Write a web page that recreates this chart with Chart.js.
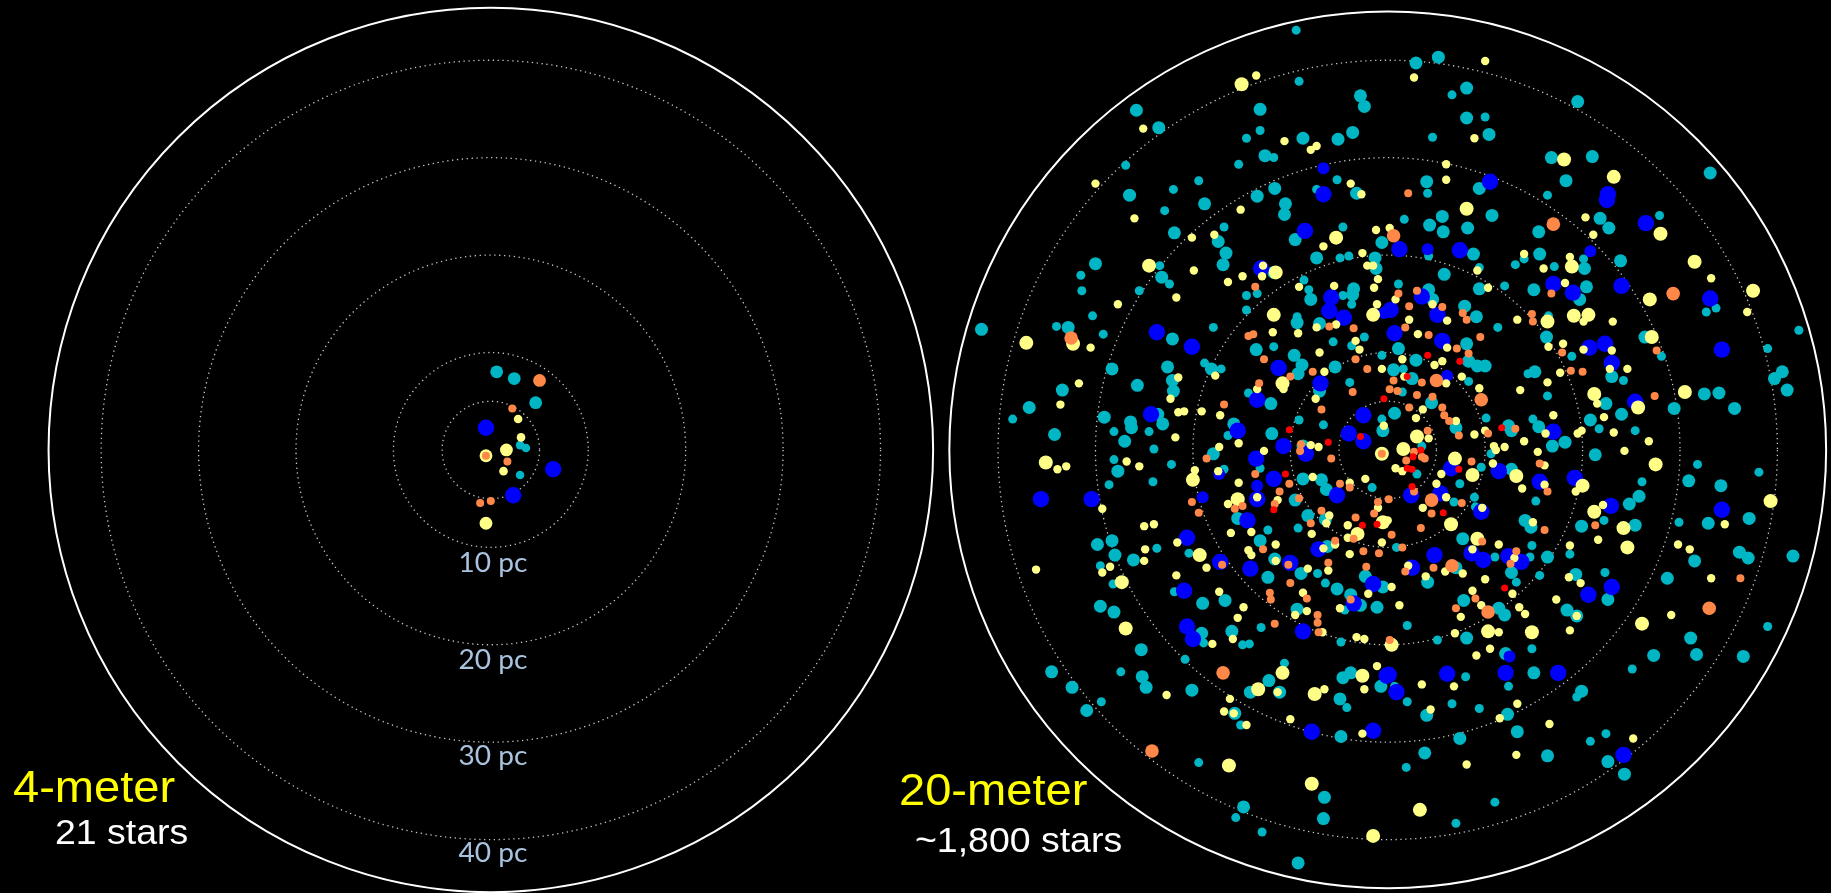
<!DOCTYPE html>
<html><head><meta charset="utf-8">
<script src="https://cdn.jsdelivr.net/npm/chart.js@4.4.0/dist/chart.umd.min.js"></script>
<style>html,body{margin:0;padding:0;background:#000;overflow:hidden}canvas{display:block}</style>
</head><body>
<canvas id="c" width="1831" height="893"></canvas>
<script>
// ---- ring / label values (pc) ----
const ringRadii = [5, 10, 20, 30, 40];
const outerRadii = [45.4, 45.0];
const labelRadii = [10, 20, 30, 40];
const ringLabels = ['10 pc', '20 pc', '30 pc', '40 pc'];
const panelTitles = ['4-meter', '20-meter'];
const panelCounts = ['21 stars', '~1,800 stars'];

// ---- 4-meter panel: star positions (pc from Sun) ----
const L_cyanB = [[0.6,8.1],[2.4,7.4],[4.6,4.9]];
const L_cyanS = [[3.0,0.5],[3.6,0.2],[3.0,-2.6]];
const L_yellowB = [[1.6,0.0],[-0.5,-0.6],[-0.5,-7.6]];
const L_yellowS = [[2.8,3.2],[3.1,1.3],[1.3,-2.2]];
const L_blueB = [[-0.5,2.3],[6.4,-2.0],[2.3,-4.7]];
const L_orangeB = [[5.0,7.2]];
const L_orangeS = [[2.2,4.3],[-0.5,-0.6],[1.7,-1.2],[0.0,-5.3],[-1.1,-5.5]];

// ---- 20-meter panel: star positions (pc from Sun) ----
const R_cyanB = [
[-2.8,36.7],[-2.4,35.6],[-25.8,35.2],[-13.1,35.3],[-23.5,33.4],[-8.7,32.3],[-5.1,32.2],[-3.6,32.9],[-12.6,30.5],[-3.2,26.6],[-26.5,26.4],[-13.4,26.3],[-11.6,27.1],[-18.8,25.5],[-10.5,25.5],[-10.6,24.4],[-21.9,22.5],[-17.4,21.6],[-9.5,21.8],[-0.6,21.5],[-16.6,20.4],[-16.9,19.2],[-7.3,19.9],[-1.2,18.8],[-1.3,19.9],[-30.0,19.3],[-23.2,17.9],[-11.7,18.4],[-3.5,16.7],[-3.6,16.1],[-7.9,15.6],
[2.9,40.1],[5.2,40.7],[8.1,37.5],[19.5,36.1],[8.1,34.4],[10.4,32.7],[16.8,30.3],[21.0,30.4],[33.1,28.7],[4.0,27.8],[9.4,27.1],[18.3,27.9],[5.6,24.2],[10.7,24.3],[4.3,23.3],[5.7,22.6],[8.2,23.0],[15.5,22.6],[21.8,24.0],[22.7,23.0],[8.8,20.3],[15.6,20.3],[20.2,18.8],[23.9,19.6],[5.8,18.2],[4.2,16.6],[4.6,15.6],[9.4,16.7],[15.0,16.6],[20.4,16.9],[19.7,15.6],
[-41.7,12.5],[-32.8,12.7],[-22.1,11.5],[-28.3,8.4],[-25.7,6.7],[-22.6,8.6],[-22.1,7.2],[-22.0,6.1],[-18.1,8.4],[-33.4,6.2],[-36.8,4.4],[-34.2,1.6],[-29.1,3.4],[-23.6,3.7],[-23.1,2.7],[-26.4,2.9],[-26.3,2.3],[-27.0,0.9],[-27.7,-2.2],[-29.8,-9.8],[-28.3,-9.4],[-28.0,-10.9],[-26.1,-11.4],[-17.9,-0.4],[-15.8,2.7],[-15.4,-7.1],[-13.1,-9.4],[-12.3,-13.2],[-11.6,-11.3],[-8.9,-12.8],[-5.2,-14.4],[-6.2,-10.0],[-8.2,-6.8],[-6.4,-7.2],[-9.5,-5.2],[-8.7,-3.0],[-6.8,-3.1],[-6.3,-4.1],[-2.3,-13.1],[-0.5,-14.2],[-3.8,-15.0],[-0.5,2.0],[-8.7,0.4],[-11.9,1.7],[-7.0,6.1],[-12.0,4.8],[-9.6,9.8],[-8.8,8.8],[-9.2,7.9],[-5.4,8.6],[-7.0,13.1],[-9.3,13.2],[-13.5,10.4],
[7.9,14.9],[9.1,13.8],[8.1,11.0],[1.1,10.5],[2.9,9.3],[8.3,9.2],[9.2,8.7],[10.0,8.7],[0.6,8.3],[2.5,7.4],[4.5,4.9],[0.7,3.8],[7.0,2.3],[7.7,-9.2],[7.0,-12.2],[4.1,-13.7],[12.7,-12.7],[16.4,-11.1],[14.1,-7.3],[14.7,-8.0],[12.7,-2.0],[12.4,2.5],[12.7,2.0],[16.3,11.7],[15.1,8.1],[15.5,2.4],[16.9,0.4],[18.2,0.8],[20.8,3.1],[24.0,3.7],[22.4,4.8],[21.3,-0.5],[25.8,-4.8],[24.8,-5.6],[19.9,-7.9],[25.4,-7.8],[19.3,-12.9],[28.7,-13.3],[31.5,-11.5],[36.1,-10.6],[37.0,-11.2],[41.6,-11.0],[32.9,-7.6],[37.1,-7.1],[34.2,-3.7],[30.9,-3.2],[29.4,4.3],[32.5,5.8],[34.0,5.9],[35.6,4.3],[39.7,7.4],[40.5,8.1],[41.0,6.2],[26.4,11.7],[23.0,7.6],
[-29.5,-16.2],[-28.1,-16.8],[-25.3,-20.7],[-34.5,-23.0],[-25.2,-23.5],[-24.8,-24.6],[-32.4,-24.6],[-30.9,-27.0],[-20.1,-24.9],[-19.1,-19.0],[-19.0,-15.9],[-16.7,-15.6],[-16.0,-18.8],[-9.3,-16.5],[-2.8,-16.1],[-1.1,-16.3],[-12.2,-23.9],[-14.1,-25.1],[-11.1,-25.1],[-15.7,-27.3],[-4.9,-25.8],[-4.6,-23.6],[-3.8,-23.1],[-0.7,-24.5],[-4.8,-29.7],[-6.5,-36.0],[-6.6,-38.2],[-14.8,-37.0],[-9.2,-42.8],
[7.8,-15.6],[11.4,-16.4],[12.0,-17.1],[18.4,-16.6],[19.4,-17.2],[22.6,-15.5],[8.1,-19.5],[31.1,-19.5],[31.7,-21.2],[36.5,-21.4],[27.3,-21.3],[12.1,-21.1],[15.0,-23.1],[19.9,-25.0],[4.0,-27.5],[12.3,-27.4],[13.3,-29.2],[7.4,-29.9],[3.8,-31.4],[16.4,-31.7],[22.6,-32.3],[24.3,-33.6]
];
const R_cyanS = [
[-9.4,43.5],[-9.1,38.2],[-13.1,33.1],[-14.5,32.3],[-11.7,30.3],[-15.3,29.6],[-26.9,29.5],[-5.2,28.0],[-7.3,27.0],[-19.4,27.9],[-22.0,27.0],[-22.9,24.8],[-16.8,23.1],[-4.6,23.1],[-4.9,19.9],[-4.0,20.1],[-23.4,19.1],[-31.5,18.1],[-22.4,17.2],[-13.4,16.2],[-14.5,16.0],[-31.4,16.5],[-25.5,16.5],[-8.1,16.6],[-8.6,17.6],[-4.6,16.0],
[6.6,36.8],[10.0,34.5],[4.6,32.4],[4.1,26.6],[16.4,26.4],[1.7,23.9],[27.9,24.3],[4.2,20.1],[14.0,19.8],[13.1,19.2],[20.1,19.8],[17.1,19.0],[9.4,18.9],[1.1,17.2],[12.0,17.0],
[-34.0,12.8],[-30.3,13.9],[-29.2,12.0],[-17.9,12.7],[-18.8,9.0],[-17.1,8.4],[-38.5,3.2],[-28.1,1.9],[-24.5,1.9],[-24.0,0.1],[-28.1,-1.0],[-22.2,-1.5],[-28.6,-3.6],[-24.1,-3.3],[-29.5,-12.0],[-28.2,-13.9],[-23.7,-10.2],[-21.9,-14.7],[-20.4,-10.7],[-16.8,-2.0],[-16.4,1.5],[-13.1,-1.9],[-12.3,-8.3],[-7.2,-12.8],[-6.4,-13.8],[-9.2,-8.1],[-1.6,-3.9],[-0.6,3.2],[-9.1,3.1],[-6.6,2.6],[-14.3,5.9],[-3.9,7.0],[-0.6,9.8],[-3.7,10.8],[-2.4,11.7],[-5.6,11.2],[-3.7,15.1],[-9.3,13.8],[-11.7,10.7],[-14.5,14.5],
[11.3,12.7],[1.6,8.4],[8.3,7.1],[1.5,6.0],[10.1,3.3],[3.5,0.4],[3.0,-2.5],[9.6,-1.8],[7.4,-3.5],[6.8,-5.4],[8.9,-4.9],[9.0,-5.9],[0.9,-10.1],[11.0,-11.1],[13.2,-13.7],[14.6,-11.1],[14.8,-9.9],[15.6,-13.0],[15.2,-5.3],[10.6,-0.4],[16.5,13.9],[18.9,9.7],[14.4,7.9],[16.4,5.6],[14.9,3.2],[21.7,2.2],[25.4,2.0],[26.1,-3.3],[22.2,-7.3],[18.7,-10.8],[22.3,-12.7],[29.9,-7.5],[31.8,-1.5],[38.1,-2.3],[39.0,10.5],[42.2,12.4],[32.7,14.3],[33.7,14.7],[28.1,9.7],[24.2,7.2],
[-27.4,-23.0],[-29.4,-26.1],[-20.8,-21.7],[-18.9,-20.0],[-14.9,-20.2],[-14.2,-20.1],[-13.0,-18.4],[-4.8,-19.9],[-4.4,-16.6],[-10.6,-22.1],[-15.1,-28.5],[-4.2,-26.7],[-19.4,-32.4],[-15.6,-38.1],[-12.9,-39.6],
[2.0,-18.2],[5.1,-19.7],[39.0,-18.3],[25.1,-22.7],[14.8,-20.6],[8.0,-23.5],[0.7,-24.5],[12.4,-24.5],[19.4,-25.6],[2.0,-26.1],[6.6,-26.3],[9.4,-26.8],[1.9,-32.9],[20.8,-30.2],[22.4,-29.4],[11.0,-36.5],[7.0,-38.7]
];
const R_yellowB = [
[-15.0,37.9],[-5.3,22.0],[-24.5,19.1],[-11.5,18.4],
[18.1,30.1],[23.2,28.3],[8.1,25.0],[28.0,22.4],[18.9,19.0],[31.5,19.5],[37.5,16.5],[26.9,15.6],
[-37.1,11.1],[-32.3,11.0],[-35.1,-1.3],[-27.3,-13.7],[-19.3,-10.9],[-20.0,-3.1],[-15.4,-5.1],[-0.5,-7.5],[-3.1,-8.7],[-0.6,-0.4],[-10.8,6.9],[-1.5,14.0],[-11.7,14.0],
[3.0,1.4],[1.6,0.1],[6.9,-0.9],[8.7,-2.6],[6.5,-7.7],[9.2,-9.2],[13.2,-2.7],[16.4,13.3],[20.0,-3.7],[21.2,5.8],[27.5,-1.5],[21.2,-6.4],[24.2,-8.1],[24.6,-10.1],[39.3,-5.3],[30.5,6.0],[27.1,11.7],[19.1,13.9],[20.6,14.0],[25.7,4.4],
[-26.9,-18.5],[-10.8,-23.1],[-13.3,-24.8],[-7.5,-25.3],[-2.6,-23.4],[-16.3,-32.7],[-7.8,-34.6],[-1.5,-40.0],
[0.4,-20.2],[10.3,-18.8],[14.8,-18.9],[26.1,-18.0],[3.3,-37.3]
];
const R_yellowS = [
[-13.5,38.8],[-25.1,33.3],[-10.6,32.0],[-7.3,31.5],[-7.9,31.1],[-3.8,27.6],[-2.7,26.5],[-30.0,27.6],[-15.1,24.9],[-26.0,24.0],[-20.1,22.0],[-17.8,22.3],[-1.2,22.8],[-6.6,21.1],[-2.6,20.4],[-2.1,19.1],[-1.5,19.1],[-19.9,18.6],[-12.8,19.1],[-12.9,18.0],[-14.9,18.0],[-16.4,17.4],[-21.7,15.8],[-5.5,17.0],[-9.1,16.9],[-1.4,16.8],[-1.0,17.7],
[10.0,40.3],[2.7,38.6],[8.9,32.3],[6.0,29.6],[6.0,28.0],[20.3,24.1],[21.1,22.3],[0.2,23.0],[14.0,20.3],[18.7,20.0],[16.0,18.8],[33.2,17.8],[9.2,18.6],[10.3,16.8],[18.2,17.3],[0.8,15.6],
[-30.5,10.6],[-27.7,15.1],[-21.5,7.5],[-22.3,5.3],[-17.7,7.7],[-31.7,6.9],[-33.6,4.7],[-33.9,-2.0],[-33.0,-1.7],[-21.5,3.9],[-20.9,4.0],[-19.1,4.0],[-21.8,1.3],[-26.8,-1.2],[-25.5,-1.7],[-29.3,-6.1],[-25.0,-7.9],[-24.0,-7.7],[-29.3,-12.7],[-28.5,-12.1],[-25.0,-11.5],[-24.9,-10.3],[-36.1,-12.4],[-21.7,-13.0],[-21.6,-9.6],[-18.6,-12.2],[-17.3,-14.7],[-19.8,-2.1],[-17.3,0.3],[-17.4,-2.2],[-17.2,3.6],[-15.3,0.7],[-15.3,-3.4],[-12.7,-0.1],[-13.4,-4.9],[-16.4,-5.6],[-16.1,-8.6],[-14.0,-8.5],[-14.3,-10.4],[-14.0,-10.9],[-11.5,-11.5],[-11.5,-9.8],[-8.2,-12.3],[-8.7,-14.8],[-6.1,-12.5],[-6.6,-10.2],[-5.4,-9.8],[-7.8,-8.7],[-6.0,-6.8],[-6.3,-7.6],[-11.3,-5.2],[-7.7,-2.8],[-3.9,-3.4],[-2.3,-3.0],[-1.0,-6.0],[-4.1,-7.8],[-4.1,-9.1],[-3.9,-10.8],[-0.6,-9.6],[-2.0,-14.9],[-0.4,2.5],[-7.9,0.5],[-7.1,0.3],[-7.4,5.3],[-10.7,6.3],[-13.4,6.3],[-6.5,8.1],[-0.6,8.4],[-2.9,10.4],[-3.3,11.3],[-7.0,10.1],[-7.3,12.7],[-5.3,13.0],[-1.1,15.1],[-9.2,12.1],[-11.8,12.2],
[2.2,13.5],[6.1,13.4],[4.6,15.1],[3.1,12.0],[6.1,10.6],[1.5,9.4],[4.8,8.8],[5.6,9.2],[1.7,7.6],[6.0,6.9],[7.6,7.6],[9.4,6.4],[3.6,4.2],[2.9,3.3],[7.0,3.0],[4.2,1.2],[0.8,-1.9],[1.5,-2.2],[5.5,-2.5],[5.0,-3.5],[6.0,-4.9],[9.7,-6.0],[3.6,-6.0],[0.0,-7.3],[8.7,-10.3],[2.1,-12.0],[5.9,-12.6],[7.7,-12.8],[3.9,-13.1],[0.4,-14.2],[10.0,-13.4],[8.7,-14.6],[13.0,-11.2],[12.8,-14.9],[11.4,-9.8],[14.9,-7.5],[10.8,-1.4],[10.9,0.4],[12.0,0.3],[11.1,0.0],[8.9,1.6],[10.0,2.0],[13.3,13.5],[16.5,10.7],[18.0,11.0],[17.7,8.0],[16.4,7.0],[13.6,6.2],[17.0,3.6],[16.2,1.7],[14.0,0.9],[15.4,-0.2],[16.1,-1.6],[16.1,-3.6],[13.8,-4.0],[19.3,-4.3],[19.5,1.7],[19.9,2.0],[22.2,3.4],[21.5,4.8],[23.2,1.8],[26.8,0.9],[24.3,-0.1],[22.1,-5.7],[21.6,-9.3],[18.7,-9.9],[18.6,-13.2],[19.8,-13.8],[29.8,-9.8],[31.0,-10.3],[33.2,-13.3],[34.6,-7.7],[36.9,14.3],[23.1,13.3],[20.1,13.3],[20.1,10.4],[23.0,10.3],[22.8,8.4],[24.6,8.4],
[-22.7,-25.4],[-18.0,-20.1],[-14.8,-16.3],[-15.4,-17.4],[-15.9,-19.6],[-9.5,-17.1],[-8.3,-16.7],[-6.7,-18.9],[-3.2,-19.4],[-2.4,-19.6],[-4.9,-16.4],[-11.3,-25.1],[-16.2,-25.8],[-16.8,-27.1],[-15.8,-27.3],[-14.5,-28.5],[-10.0,-27.9],[-6.5,-24.8],[-2.4,-24.8],[-1.1,-22.4],[-2.6,-29.4],
[1.2,-16.1],[9.6,-16.1],[13.5,-16.3],[14.1,-17.0],[17.3,-15.5],[19.4,-17.2],[7.5,-17.3],[6.9,-19.0],[11.4,-18.9],[18.7,-18.7],[29.1,-17.1],[10.5,-20.6],[9.1,-21.3],[3.5,-24.3],[6.8,-24.5],[13.3,-26.3],[4.4,-26.9],[11.5,-27.8],[16.6,-28.4],[8.1,-32.6],[13.2,-31.6],[25.2,-29.9]
];
const R_blueB = [
[-6.6,26.5],[-8.5,22.7],[-13.0,18.8],[-5.8,15.8],
[10.5,27.8],[22.6,26.5],[22.5,25.9],[26.5,23.5],[1.2,20.8],[7.4,20.7],[3.5,15.9],[17.0,17.2],[19.0,16.3],[24.0,17.0],[33.1,15.7],
[-23.7,12.2],[-20.1,10.7],[-35.6,-5.1],[-30.4,-5.1],[-24.3,3.7],[-20.9,-14.6],[-20.6,-9.1],[-17.2,-11.6],[-15.4,2.0],[-13.5,-0.9],[-13.4,-5.1],[-14.4,-7.3],[-14.1,-12.3],[-10.0,-11.7],[-7.1,-10.3],[-5.2,-4.7],[-1.5,-13.9],[-2.5,3.6],[-4.0,1.7],[-2.5,0.9],[-8.4,-0.4],[-10.7,0.4],[-6.9,6.9],[-13.4,5.2],[-11.2,8.5],[-4.5,13.7],[-6.0,14.4],[-11.7,-3.0],
[0.3,14.5],[5.1,14.0],[0.7,12.1],[5.6,11.3],[6.5,-1.9],[2.4,-4.7],[5.4,-4.5],[9.6,-6.4],[8.6,-10.7],[9.8,-11.4],[4.8,-10.9],[2.5,-12.2],[12.4,-11.0],[13.7,-11.6],[11.4,-2.2],[17.0,1.9],[15.6,-3.3],[19.2,-2.9],[22.9,-5.8],[23.0,-14.2],[20.6,-15.0],[34.3,-6.2],[34.3,10.4],[20.7,10.6],[22.3,11.0],[23.0,9.0],[25.4,5.0],
[-20.6,-18.3],[-20.0,-19.6],[-8.7,-18.8],[-3.5,-15.9],[-0.1,-23.4],[-7.8,-29.2],[-1.5,-29.1],
[0.1,-23.3],[6.1,-23.2],[12.1,-23.1],[17.5,-23.1],[0.9,-25.1],[24.2,-31.6]
];
const R_blueS = [[-6.6,29.2],[4.1,20.8],[20.8,20.6],[-19.0,-4.9],[-17.3,-2.5],[-13.4,-3.7],[-0.4,14.2],[6.1,7.7],[12.5,-21.4]];
const R_orangeB = [[17.0,23.4],[0.6,22.2],[29.3,16.2],[-32.5,11.6],[5.0,7.2],[9.6,5.2],[4.5,-5.2],[6.6,-12.0],[-16.9,-23.1],[-24.2,-31.2],[10.3,-16.8],[33.0,-16.4]];
const R_orangeS = [
[-13.6,16.9],[2.1,26.6],[3.0,16.5],[1.1,16.2],[16.8,16.2],
[-17.0,-11.9],[-20.1,-5.4],[-19.4,-6.5],[-18.6,-0.9],[-16.8,4.7],[-13.6,-2.5],[-15.7,-6.1],[-14.9,-5.8],[-12.8,-10.3],[-12.1,-14.8],[-10.2,-11.9],[-10.0,-13.8],[-6.1,-11.7],[-5.4,-9.4],[-7.9,-7.6],[-6.8,-6.3],[-9.1,-5.0],[-11.1,-4.3],[-11.6,-5.6],[-10.1,-3.5],[-4.9,-3.5],[-3.9,-3.9],[-1.0,-5.4],[-1.4,-6.6],[-3.3,-7.0],[-3.5,-9.2],[-2.5,-10.5],[-0.9,-10.7],[-2.2,-12.1],[-0.6,-0.4],[-8.9,0.6],[-9.0,-0.1],[-5.8,-0.9],[-6.8,4.2],[-13.2,6.9],[-10.0,7.6],[-7.7,8.1],[-3.6,6.0],[-2.1,8.4],[-3.3,9.4],[-3.5,12.6],[-6.0,12.8],[-12.7,9.4],[-14.3,11.8],[-13.8,12.0],
[2.2,14.9],[5.6,14.8],[7.7,14.2],[8.1,13.5],[4.2,11.9],[1.8,12.7],[7.1,10.5],[9.5,11.7],[8.3,10.0],[0.6,7.2],[3.5,7.0],[0.2,6.3],[1.0,6.1],[3.0,5.7],[4.6,5.5],[5.6,4.4],[2.2,4.4],[5.8,3.6],[6.3,3.0],[7.3,1.5],[4.1,2.0],[2.7,-0.2],[3.5,-0.7],[3.8,-0.9],[1.9,-1.1],[8.6,-1.2],[2.7,-4.3],[7.6,-5.5],[4.5,-6.6],[0.1,-5.1],[3.4,-8.1],[0.4,-8.8],[1.5,-10.1],[9.7,-9.5],[1.8,-12.6],[4.7,-12.2],[13.2,-10.5],[12.6,-11.8],[16.1,-8.3],[10.3,1.7],[13.1,2.2],[14.8,14.1],[14.9,13.3],[17.9,10.1],[18.8,8.2],[20.0,8.1],[15.6,-1.4],[16.4,-4.3],[21.3,-7.8],[36.2,-13.3],[27.6,10.3],[27.4,5.6],
[-11.6,-18.0],[-12.0,-15.5],[-7.2,-17.1],[-7.2,-17.9],[-8.3,-15.4],[-7.1,-18.9],[-3.8,-15.5],
[9.0,-15.4],[7.0,-16.4],[0.2,-19.7]
];
const R_red = [[-11.7,-6.2],[-10.5,-2.5],[-1.1,-7.7],[-2.6,-7.8],[-2.8,1.4],[-6.1,0.8],[-10.1,2.1],[-0.4,5.3],
[4.1,9.8],[7.4,9.2],[2.0,7.6],[3.4,0.0],[2.6,-0.7],[2.0,-1.9],[2.5,-2.0],[7.3,-2.0],[2.5,-3.8],[5.7,-6.5],[12.0,-14.3],[11.7,2.3]];

// ---- layout (not data) ----
const PX_PER_PC = 9.83;
const CENTER_PX = [487, 1392];
const CENTER_PY = 450;
const W = 1831, H = 893;
const panelCenters = CENTER_PX.map(p => (p - CENTER_PX[0]) / PX_PER_PC);

const COLORS = {cyan:'#00b6c4', yellow:'#ffff88', blue:'#0000ff', orange:'#ff8848', red:'#ff0000'};

function mk(arr, panel, color, radius, order) {
  const cx = panelCenters[panel];
  return {
    data: arr.map(p => ({x: p[0] + cx, y: p[1]})),
    backgroundColor: COLORS[color], borderWidth: 0,
    pointRadius: radius, pointHoverRadius: radius, pointBorderWidth: 0,
    order: order
  };
}

const datasets = [
  mk(L_cyanB, 0, 'cyan', 6.4, 6), mk(L_cyanS, 0, 'cyan', 4.3, 6),
  mk(R_cyanB, 1, 'cyan', 6.5, 6), mk(R_cyanS, 1, 'cyan', 4.5, 6),
  mk(L_blueB, 0, 'blue', 8.2, 5),
  mk(R_blueB, 1, 'blue', 8.2, 5), mk(R_blueS, 1, 'blue', 6, 5),
  mk(L_yellowB, 0, 'yellow', 6.4, 4), mk(L_yellowS, 0, 'yellow', 4.3, 4),
  mk(R_yellowB, 1, 'yellow', 7, 4), mk(R_yellowS, 1, 'yellow', 4.2, 4),
  mk(L_orangeB, 0, 'orange', 6.4, 3), mk(L_orangeS, 0, 'orange', 4, 3),
  mk(R_orangeB, 1, 'orange', 6.8, 3), mk(R_orangeS, 1, 'orange', 4, 3),
  mk(R_red, 1, 'red', 3.5, 2)
];

function stretchedText(ctx, txt, x, y, font, color, sx) {
  ctx.save();
  ctx.font = font; ctx.fillStyle = color; ctx.textBaseline = 'alphabetic';
  ctx.translate(x, y); ctx.scale(sx, 1);
  ctx.fillText(txt, 0, 0);
  ctx.restore();
}

const ringsPlugin = {
  id: 'rings',
  beforeDraw(chart) {
    const ctx = chart.ctx;
    ctx.save(); ctx.fillStyle = '#000'; ctx.fillRect(0, 0, chart.width, chart.height); ctx.restore();
  },
  beforeDatasetsDraw(chart) {
    const {ctx, scales: {x, y}} = chart;
    ctx.save();
    panelCenters.forEach((cx, i) => {
      const px = x.getPixelForValue(cx), py = y.getPixelForValue(0);
      const u = x.getPixelForValue(cx + 1) - px;
      ctx.strokeStyle = 'rgba(220,220,220,0.9)';
      ctx.lineWidth = 1.3;
      ctx.setLineDash([1.3, 3.6]);
      ringRadii.forEach(r => { ctx.beginPath(); ctx.arc(px, py, r * u, 0, Math.PI * 2); ctx.stroke(); });
      ctx.setLineDash([]);
      ctx.strokeStyle = '#ffffff'; ctx.lineWidth = 2;
      ctx.beginPath(); ctx.arc(px, py, outerRadii[i] * u, 0, Math.PI * 2); ctx.stroke();
    });
    ctx.restore();
  },
  afterDatasetsDraw(chart) {
    const {ctx, scales: {x, y}} = chart;
    const cxp = x.getPixelForValue(panelCenters[0]);
    ctx.save();
    ctx.font = '26px Lato';
    labelRadii.forEach((r, i) => {
      const py = y.getPixelForValue(-r) + 26;
      const w = ctx.measureText(ringLabels[i]).width * 1.08;
      stretchedText(ctx, ringLabels[i], cxp + 2 - w / 2, py, '26px Lato', '#a9c3df', 1.08);
    });
    ctx.restore();
    stretchedText(ctx, panelTitles[0], 13, 802, '44px "Liberation Sans", Arial, sans-serif', '#ffff00', 1.07);
    stretchedText(ctx, panelCounts[0], 55, 844, '35px "Liberation Sans", Arial, sans-serif', '#ffffff', 1.07);
    stretchedText(ctx, panelTitles[1], 899, 805, '44px "Liberation Sans", Arial, sans-serif', '#ffff00', 1.07);
    stretchedText(ctx, panelCounts[1], 915, 852, '35px "Liberation Sans", Arial, sans-serif', '#ffffff', 1.07);
  }
};

function build() {
  new Chart(document.getElementById('c'), {
    type: 'scatter',
    data: {datasets},
    options: {
      responsive: false, animation: false, events: [],
      layout: {padding: 0},
      plugins: {legend: {display: false}, tooltip: {enabled: false}},
      scales: {
        x: {type: 'linear', display: false, min: -CENTER_PX[0] / PX_PER_PC, max: (W - CENTER_PX[0]) / PX_PER_PC},
        y: {type: 'linear', display: false, min: -(H - CENTER_PY) / PX_PER_PC, max: CENTER_PY / PX_PER_PC}
      }
    },
    plugins: [ringsPlugin]
  });
}
Promise.all([
  document.fonts.load('26px Lato'),
  document.fonts.load('44px "Liberation Sans"')
]).then(build, build);
</script>
</body></html>
